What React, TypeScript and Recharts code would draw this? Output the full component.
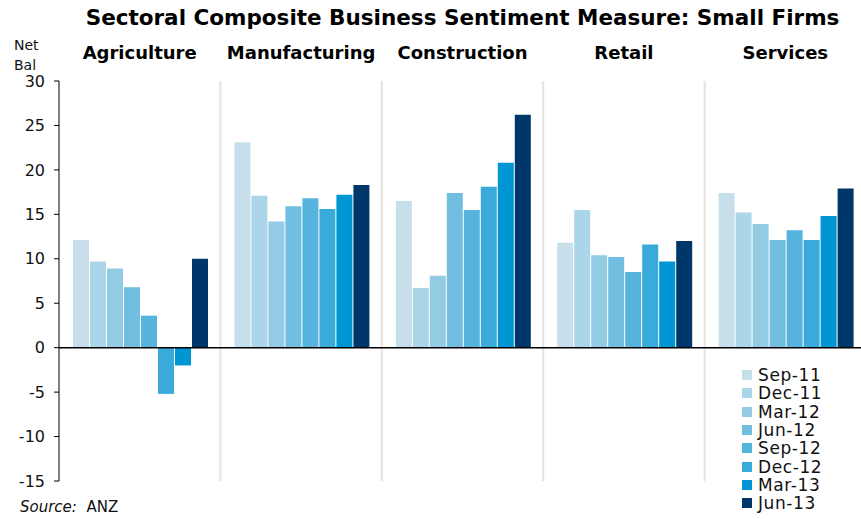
import React from 'react';
import {
  BarChart, Bar, XAxis, YAxis, CartesianGrid, ReferenceLine,
} from 'recharts';

const categories = ['Agriculture', 'Manufacturing', 'Construction', 'Retail', 'Services'];
const quarters = ['Sep-11', 'Dec-11', 'Mar-12', 'Jun-12', 'Sep-12', 'Dec-12', 'Mar-13', 'Jun-13'];

// net balance by sector, one array per survey quarter
const sep11 = [12.1, 23.1, 16.5, 11.8, 17.4];
const dec11 = [9.7, 17.1, 6.7, 15.5, 15.2];
const mar12 = [8.9, 14.2, 8.1, 10.4, 13.9];
const jun12 = [6.8, 15.9, 17.4, 10.2, 12.1];
const sep12 = [3.6, 16.8, 15.5, 8.5, 13.2];
const dec12 = [-5.2, 15.6, 18.1, 11.6, 12.1];
const mar13 = [-2.0, 17.2, 20.8, 9.7, 14.8];
const jun13 = [10.0, 18.3, 26.2, 12.0, 17.9];

const yTicks = [-15, -10, -5, 0, 5, 10, 15, 20, 25, 30];

const series = [sep11, dec11, mar12, jun12, sep12, dec12, mar13, jun13];
const colors = ['#c7dfeb', '#abd5e9', '#93cae4', '#71bee1', '#56b3de', '#3aaadb', '#0095d3', '#00376a'];

const rows = categories.map((name, i) => {
  const row: Record<string, string | number> = { name };
  quarters.forEach((q, j) => { row[q] = series[j][i]; });
  return row;
});

const FONT = '"DejaVu Sans", Verdana, sans-serif';

function LegendBox() {
  return (
    <div style={{ position: 'absolute', left: 742, top: 366, fontFamily: FONT, fontSize: 17, lineHeight: '18px', color: '#111' }}>
      {quarters.map((q, i) => (
        <div key={q} style={{ display: 'flex', alignItems: 'center', height: 18.3 }}>
          <span style={{ width: 10, height: 10, background: colors[i], marginRight: 6 }} />
          <span style={{ letterSpacing: 0.6 }}>{q}</span>
        </div>
      ))}
    </div>
  );
}

export default function App() {
  return (
    <div style={{ position: 'absolute', left: 0, top: 0, width: 861, height: 519, overflow: 'hidden', background: '#fff' }}>
      <div style={{ position: 'absolute', left: 0, top: 5, width: 925, textAlign: 'center', fontFamily: FONT, fontWeight: 'bold', fontSize: 21.5, color: '#000' }}>
        Sectoral Composite Business Sentiment Measure: Small Firms
      </div>
      <div style={{ position: 'absolute', left: 14, top: 35, fontFamily: FONT, fontSize: 14, lineHeight: '20px', color: '#111' }}>
        Net<br />Bal
      </div>
      <BarChart
        width={866}
        height={519}
        data={rows}
        margin={{ top: 30, right: 0, bottom: 38, left: 0 }}
        barCategoryGap={14}
        barGap={1}
      >
        <CartesianGrid
          horizontal={false}
          stroke="#e3e3e3"
          strokeWidth={2}
          verticalCoordinatesGenerator={({ offset }: any) =>
            [1, 2, 3, 4].map((k) => offset.left + (offset.width * k) / categories.length)}
        />
        <XAxis
          dataKey="name"
          orientation="top"
          height={51}
          axisLine={false}
          tickLine={false}
          tickMargin={16}
          interval={0}
          tick={{ fontFamily: FONT, fontSize: 18, fontWeight: 'bold', fill: '#000' }}
        />
        <YAxis
          domain={[-15, 30]}
          ticks={yTicks}
          width={59}
          interval={0}
          tickSize={5}
          tickMargin={9}
          axisLine={{ stroke: '#000' }}
          tickLine={{ stroke: '#000' }}
          tick={{ fontFamily: FONT, fontSize: 16, fill: '#111' }}
        />
        {quarters.map((q, i) => (
          <Bar key={q} dataKey={q} fill={colors[i]} isAnimationActive={false} />
        ))}
        <ReferenceLine y={0} stroke="#000" strokeWidth={1.5} />
      </BarChart>
      <LegendBox />
      <div style={{ position: 'absolute', left: 20, top: 498, fontFamily: FONT, fontSize: 15, color: '#111' }}>
        <i>Source:</i>&nbsp; ANZ
      </div>
    </div>
  );
}
